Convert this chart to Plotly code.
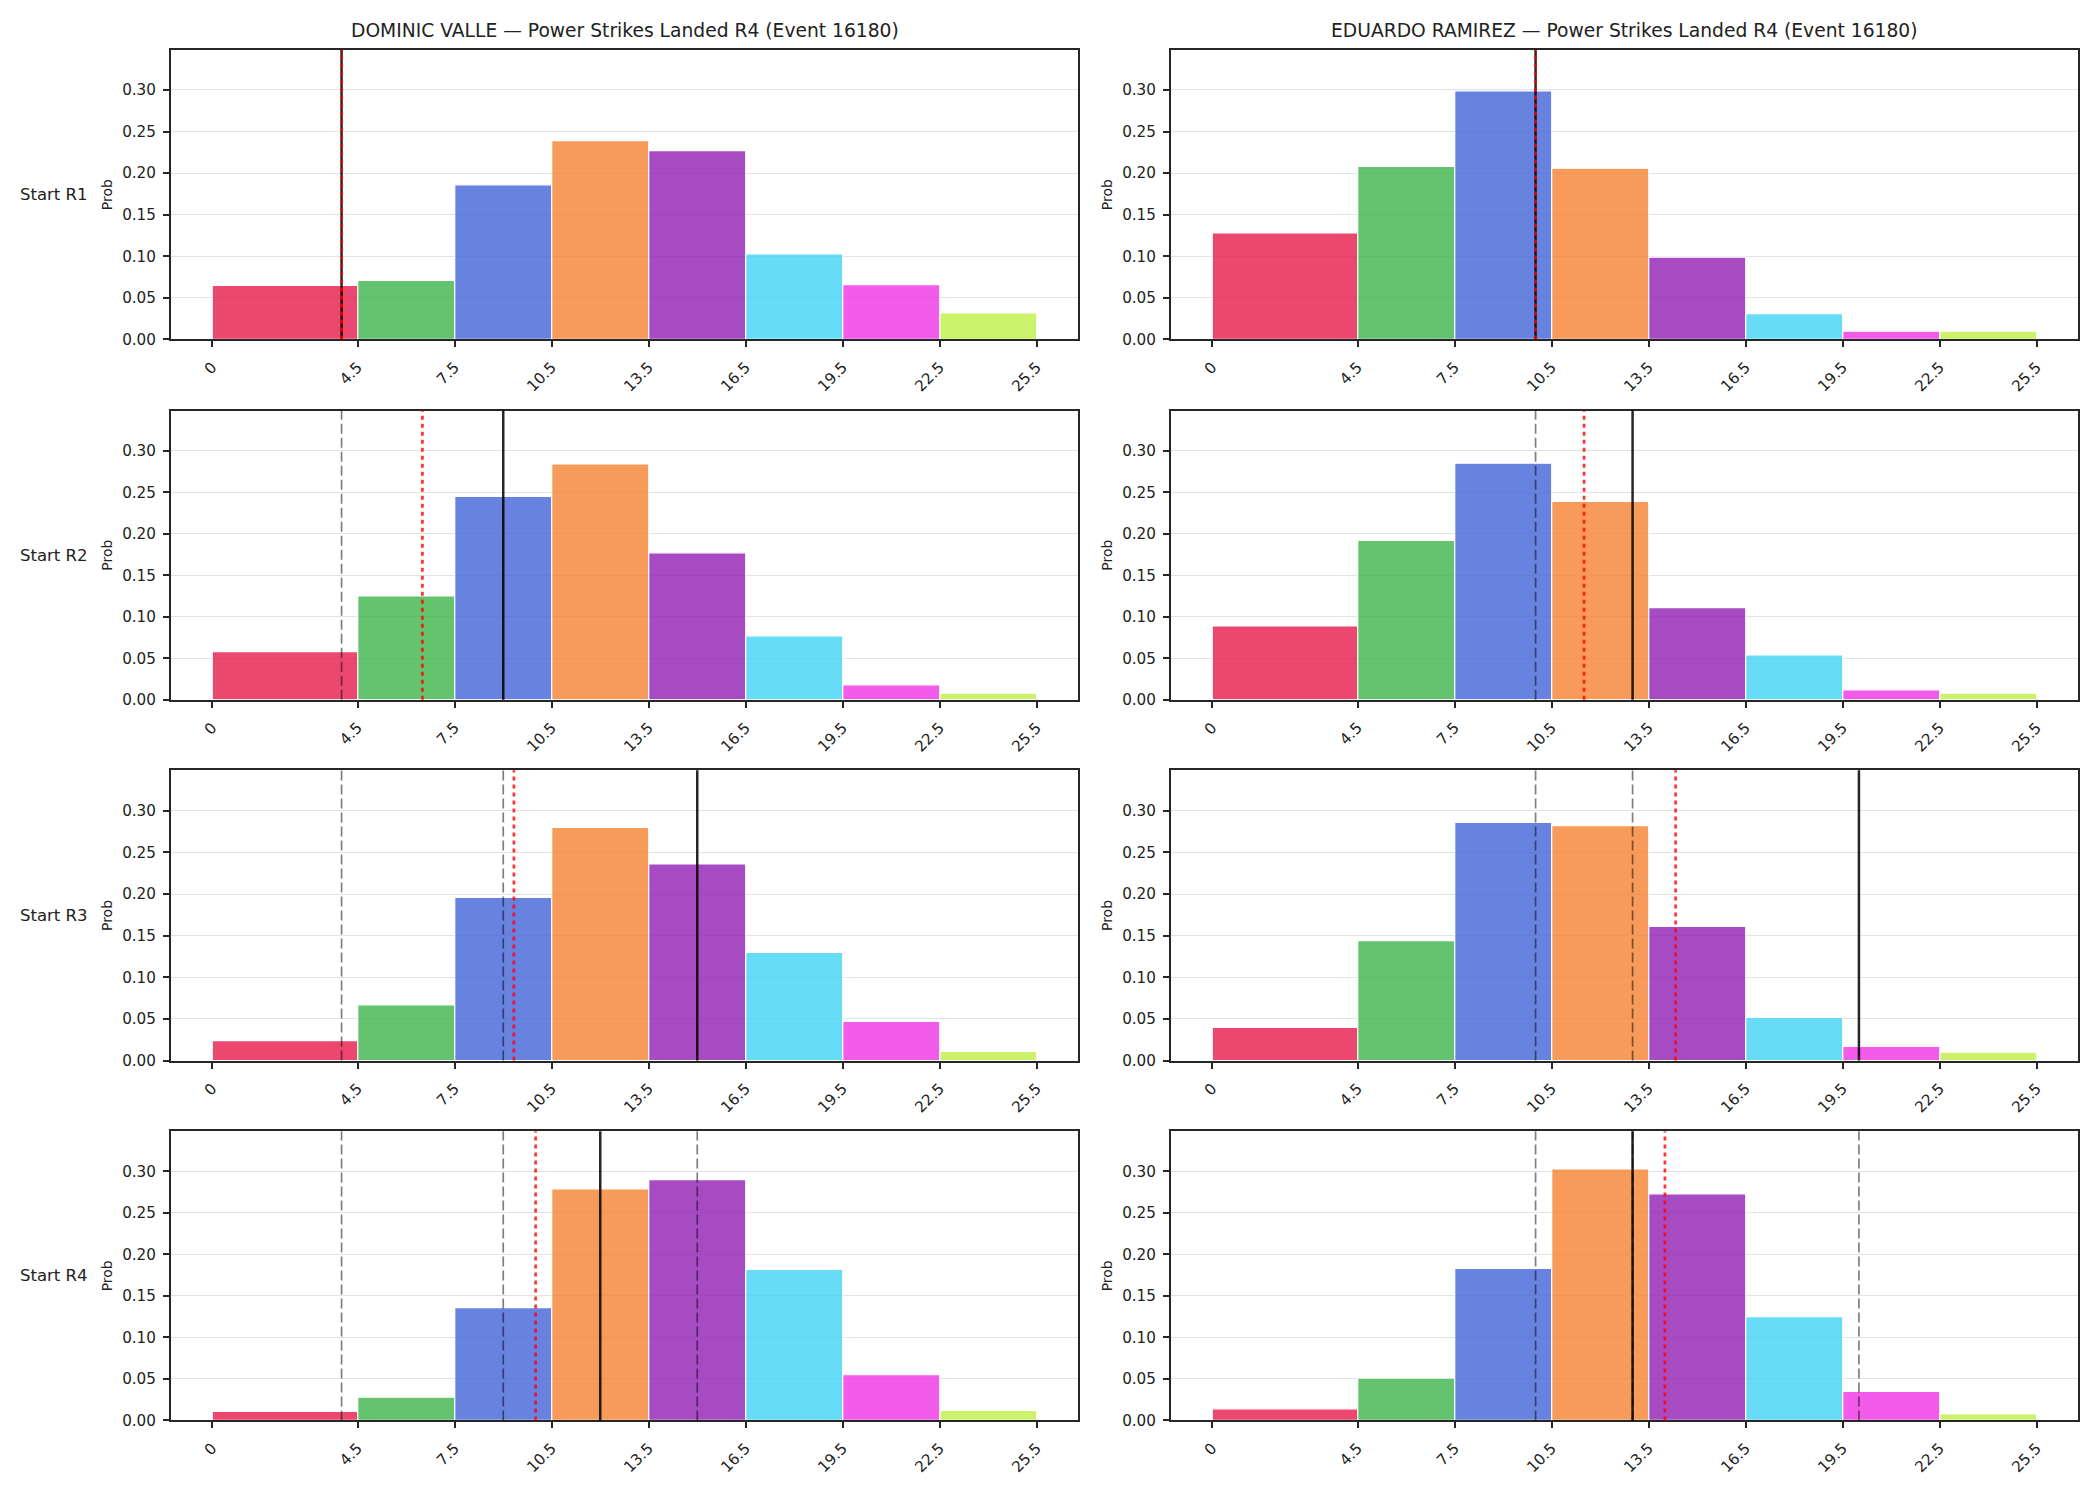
import plotly.graph_objects as go

# ---------------- data ----------------
bin_edges = [0, 4.5, 7.5, 10.5, 13.5, 16.5, 19.5, 22.5, 25.5]
x_tick_labels = ["0", "4.5", "7.5", "10.5", "13.5", "16.5", "19.5", "22.5", "25.5"]
y_tick_values = [0.00, 0.05, 0.10, 0.15, 0.20, 0.25, 0.30]
bin_colors = ["#e6194b", "#3cb44b", "#4363d8", "#f58231",
              "#911eb4", "#42d4f4", "#f032e6", "#bfef45"]

fighters = ["DOMINIC VALLE", "EDUARDO RAMIREZ"]
row_labels = ["Start R1", "Start R2", "Start R3", "Start R4"]
title_suffix = " — Power Strikes Landed R4 (Event 16180)"

valle_start_r1 = [0.065, 0.071, 0.186, 0.239, 0.227, 0.103, 0.066, 0.032]
valle_start_r2 = [0.058, 0.125, 0.245, 0.284, 0.177, 0.077, 0.018, 0.008]
valle_start_r3 = [0.024, 0.067, 0.196, 0.280, 0.236, 0.130, 0.047, 0.011]
valle_start_r4 = [0.011, 0.028, 0.136, 0.279, 0.290, 0.182, 0.055, 0.012]

ramirez_start_r1 = [0.128, 0.208, 0.299, 0.206, 0.099, 0.031, 0.010, 0.010]
ramirez_start_r2 = [0.089, 0.192, 0.285, 0.239, 0.111, 0.054, 0.012, 0.008]
ramirez_start_r3 = [0.040, 0.144, 0.286, 0.282, 0.161, 0.052, 0.017, 0.010]
ramirez_start_r4 = [0.014, 0.051, 0.183, 0.303, 0.273, 0.125, 0.035, 0.008]

# per-round actual values (black solid = current, grey dashed = earlier rounds)
valle_actual = [4, 9, 15, 12]
ramirez_actual = [10, 13, 20, 13]
# running mean of actuals (red dotted)
valle_running_mean = [4, 6.5, 9.33, 10]
ramirez_running_mean = [10, 11.5, 14.33, 14]

dists = [
    [valle_start_r1, valle_start_r2, valle_start_r3, valle_start_r4],
    [ramirez_start_r1, ramirez_start_r2, ramirez_start_r3, ramirez_start_r4],
]
actuals = [valle_actual, ramirez_actual]
means = [valle_running_mean, ramirez_running_mean]

# ---------------- layout geometry ----------------
W, H = 2100, 1500
col_px = [(171, 1078), (1171, 2078)]
row_px = [(50, 341.5), (413, 704), (775, 1067), (1138, 1429)]

FONT = "DejaVu Sans"
TXT = "#222222"
SPINE = "#262626"
TICK_SIZE = 15.2

bin_centers = [(a + b) / 2 for a, b in zip(bin_edges[:-1], bin_edges[1:])]
bin_widths = [b - a for a, b in zip(bin_edges[:-1], bin_edges[1:])]
span = bin_edges[-1] - bin_edges[0]
x_range = [bin_edges[0] - 0.05 * span, bin_edges[-1] + 0.05 * span]
y_max = max(max(max(r) for r in d) for d in dists) * 1.15

fig = go.Figure()
layout = dict(
    width=W, height=H, autosize=False,
    margin=dict(l=0, r=0, t=0, b=0),
    paper_bgcolor="white", plot_bgcolor="white",
    showlegend=False,
    font=dict(family=FONT, color=TXT),
    annotations=[], shapes=[],
)

for c in range(2):
    for r in range(4):
        k = r * 2 + c + 1
        xa = "x" if k == 1 else f"x{k}"
        ya = "y" if k == 1 else f"y{k}"
        xkey = "xaxis" if k == 1 else f"xaxis{k}"
        ykey = "yaxis" if k == 1 else f"yaxis{k}"
        x0, x1 = col_px[c]
        y0, y1 = row_px[r]
        layout[xkey] = dict(
            domain=[x0 / W, x1 / W], anchor=ya, range=x_range,
            tickmode="array", tickvals=bin_edges, ticktext=x_tick_labels,
            tickangle=-45, tickfont=dict(size=TICK_SIZE, color=TXT, family=FONT),
            ticks="outside", ticklen=6, tickwidth=1.8, tickcolor=SPINE,
            ticklabelstandoff=5,
            showline=True, linecolor=SPINE, linewidth=2, mirror=True,
            showgrid=False, zeroline=False, layer="above traces",
        )
        layout[ykey] = dict(
            domain=[1 - y1 / H, 1 - y0 / H], anchor=xa, range=[0, y_max],
            tickmode="array", tickvals=y_tick_values, tickformat=".2f",
            tickfont=dict(size=TICK_SIZE, color=TXT, family=FONT),
            ticks="outside", ticklen=6, tickwidth=1.8, tickcolor=SPINE,
            ticklabelstandoff=4,
            showline=True, linecolor=SPINE, linewidth=2, mirror=True,
            showgrid=True, gridcolor="#e3e3e3", gridwidth=1.2,
            zeroline=False, layer="above traces",
            title=dict(text="Prob", font=dict(size=14, color=TXT, family=FONT),
                       standoff=6),
        )

        fig.add_trace(go.Bar(
            x=bin_centers, y=dists[c][r], width=bin_widths,
            marker=dict(color=bin_colors, opacity=0.8,
                        line=dict(color="white", width=1.2)),
            xaxis=xa, yaxis=ya, hoverinfo="x+y",
        ))

        # earlier-round actuals: grey dashed
        for v in actuals[c][:r]:
            layout["shapes"].append(dict(
                type="line", xref=xa, yref=f"{ya} domain", x0=v, x1=v, y0=0, y1=1,
                line=dict(color="rgba(0,0,0,0.5)", width=1.7, dash="10px,4px"),
                layer="above",
            ))
        # current-round actual: black solid
        v = actuals[c][r]
        layout["shapes"].append(dict(
            type="line", xref=xa, yref=f"{ya} domain", x0=v, x1=v, y0=0, y1=1,
            line=dict(color="rgba(0,0,0,0.85)", width=2.5), layer="above",
        ))
        # running mean: red dotted
        v = means[c][r]
        layout["shapes"].append(dict(
            type="line", xref=xa, yref=f"{ya} domain", x0=v, x1=v, y0=0, y1=1,
            line=dict(color="rgba(255,0,0,0.8)", width=2.7, dash="4px,4px"),
            layer="above",
        ))

        if c == 0:
            layout["annotations"].append(dict(
                text=row_labels[r], xref="paper", yref="paper",
                x=90 / W, y=1 - (y0 + y1) / 2 / H,
                xanchor="right", yanchor="middle", showarrow=False,
                font=dict(size=16.5, color=TXT, family=FONT),
            ))

    layout["annotations"].append(dict(
        text=fighters[c] + title_suffix, xref="paper", yref="paper",
        x=(col_px[c][0] + col_px[c][1]) / 2 / W, y=1 - 31 / H,
        xanchor="center", yanchor="middle", showarrow=False,
        font=dict(size=18.7, color=TXT, family=FONT),
    ))

fig.update_layout(**layout)
fig.write_html("out.html")
